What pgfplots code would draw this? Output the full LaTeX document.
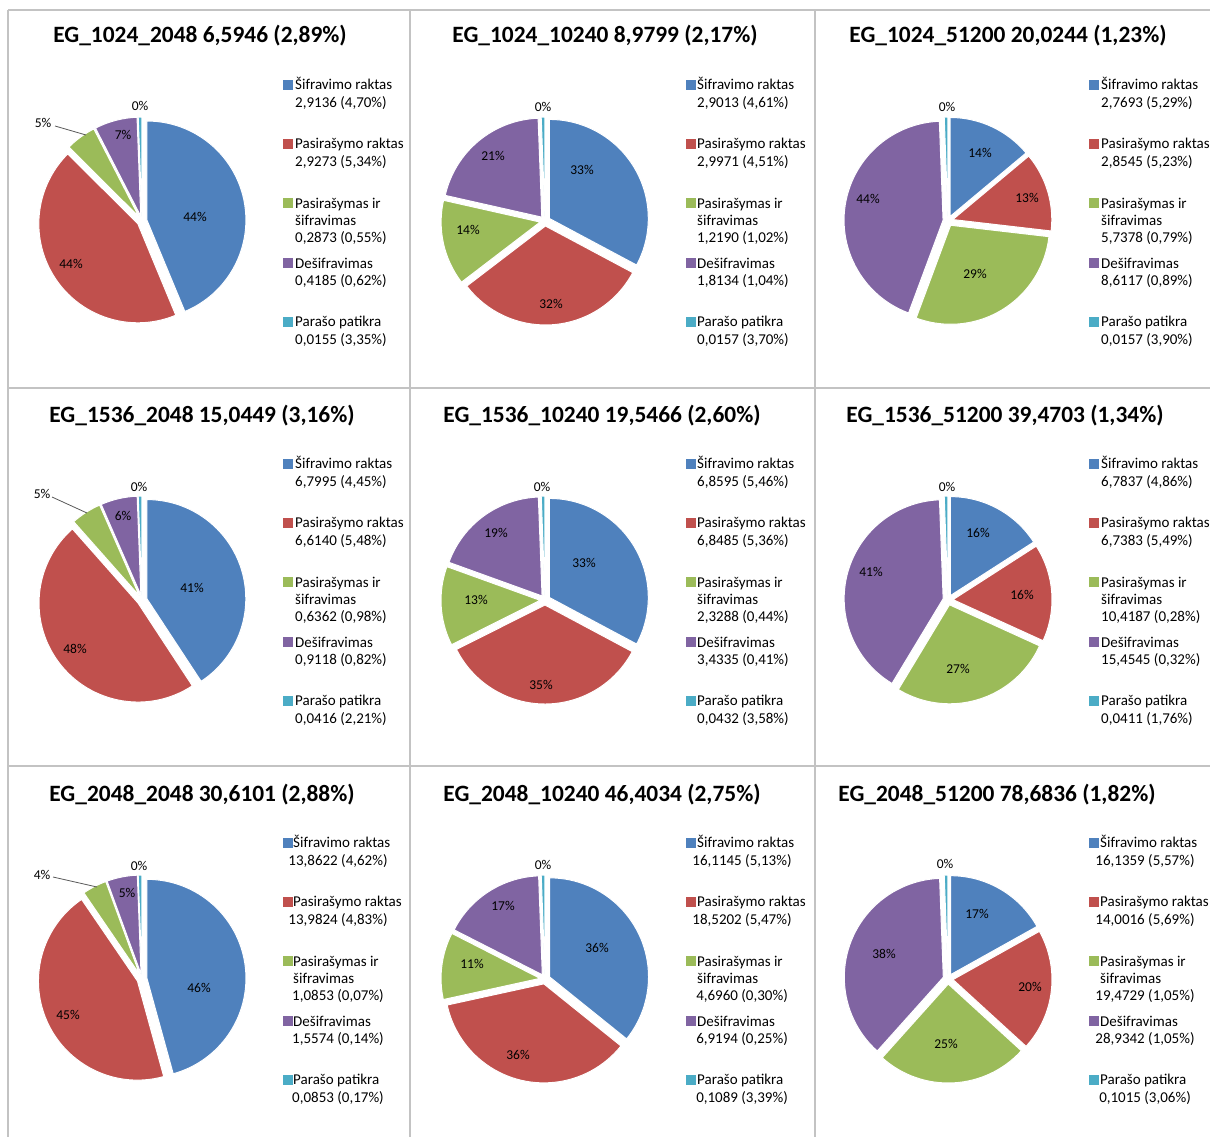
\documentclass[border=0pt]{standalone}
\usepackage{pgfplots}
\pgfplotsset{compat=1.18}
\usepackage{fontspec}
\setmainfont{Carlito}
\usetikzlibrary{calc}
\definecolor{cBlue}{HTML}{4F81BD}
\definecolor{cRed}{HTML}{C0504D}
\definecolor{cGreen}{HTML}{9BBB59}
\definecolor{cPurple}{HTML}{8064A2}
\definecolor{cAqua}{HTML}{4BACC6}
\definecolor{lgray}{RGB}{195,195,195}

\newcommand\pieR{99pt}
\newcommand\pieE{5pt}
% one slice: cx, cy, value, colour (uses \piecur and \pietot)
\newcommand{\slice}[4]{%
  \pgfmathsetmacro{\pA}{#3/\pietot*360}%
  \pgfmathsetmacro{\pEnd}{\piecur-\pA}%
  \pgfmathsetmacro{\pMid}{\piecur-\pA/2}%
  \edef\temp{\noexpand\fill[#4, draw=white, line width=1pt, line join=round]
     ($(axis cs:#1,#2)+(\pMid:\pieE)$) -- ++(\piecur:\pieR)
     arc[start angle=\piecur, end angle=\pEnd, radius=\pieR] -- cycle;}%
  \temp
  \global\let\piecur\pEnd
}
% pie: cx, cy, five shares
\newcommand{\pie}[7]{%
  \pgfmathsetmacro{\pietot}{#3+#4+#5+#6+#7}%
  \gdef\piecur{90}%
  \slice{#1}{#2}{#3}{cBlue}%
  \slice{#1}{#2}{#4}{cRed}%
  \slice{#1}{#2}{#5}{cGreen}%
  \slice{#1}{#2}{#6}{cPurple}%
  \slice{#1}{#2}{#7}{cAqua}%
}
% legend text: x, row offset, value anchor, value dx, five values
\newcommand{\legtext}[9]{%
  \node[lt, anchor=base west] at (axis cs:#1,{#2+89.7}) {Šifravimo raktas};
  \node[lt, anchor=#3] at (axis cs:{#1+#4},{#2+107.7}) {#5};
  \node[lt, anchor=base west] at (axis cs:#1,{#2+148.7}) {Pasirašymo raktas};
  \node[lt, anchor=#3] at (axis cs:{#1+#4},{#2+166.9}) {#6};
  \node[lt, anchor=base west] at (axis cs:#1,{#2+208}) {Pasirašymas ir};
  \node[lt, anchor=base west] at (axis cs:#1,{#2+225.4}) {šifravimas};
  \node[lt, anchor=#3] at (axis cs:{#1+#4},{#2+242.4}) {#7};
  \node[lt, anchor=base west] at (axis cs:#1,{#2+268}) {Dešifravimas};
  \node[lt, anchor=#3] at (axis cs:{#1+#4},{#2+285.7}) {#8};
  \node[lt, anchor=base west] at (axis cs:#1,{#2+326.4}) {Parašo patikra};
  \node[lt, anchor=#3] at (axis cs:{#1+#4},{#2+344.7}) {#9};
}

\begin{document}
\begin{tikzpicture}[
  lt/.style={font=\fontsize{15}{18}\selectfont, inner sep=0pt, text=black},
  tt/.style={font=\fontsize{23.4}{28}\selectfont\bfseries, inner sep=0pt, anchor=base},
  pl/.style={font=\fontsize{13.5}{16}\selectfont, inner sep=0pt, text=black},
  ld/.style={draw=black!65, line width=0.8pt}]
\begin{axis}[
  x=1pt, y=1pt, scale only axis,
  xmin=0, xmax=1210, ymin=0, ymax=1137,
  y dir=reverse, hide axis, clip=false]

% frame lines
\draw[lgray, line width=1.5pt] (axis cs:8,10) -- (axis cs:1210,10);
\draw[lgray, line width=1.5pt] (axis cs:8,388) -- (axis cs:1210,388);
\draw[lgray, line width=1.5pt] (axis cs:8,766) -- (axis cs:1210,766);
\draw[lgray, line width=1.5pt] (axis cs:8,10) -- (axis cs:8,1137);
\draw[lgray, line width=1.5pt] (axis cs:410,10) -- (axis cs:410,1137);
\draw[lgray, line width=1.5pt] (axis cs:815,10) -- (axis cs:815,1137);

% pies (shares in %)
\pie{142}{221}{44}{44}{5}{7}{0.6}
\pie{545}{221}{33}{32}{14}{21}{0.6}
\pie{948}{221}{14}{13}{29}{44}{0.6}
\pie{142}{600}{41}{48}{5}{6}{0.6}
\pie{545}{600}{33}{35}{13}{19}{0.6}
\pie{948}{600}{16}{16}{27}{41}{0.6}
\pie{142}{979}{46}{45}{4}{5}{0.6}
\pie{545}{979}{36}{36}{11}{17}{0.6}
\pie{948}{979}{17}{20}{25}{38}{0.6}

% titles
\node[tt] at (axis cs:200,43) {EG\_1024\_2048 6,5946 (2,89\%)};
\node[tt] at (axis cs:605,43) {EG\_1024\_10240 8,9799 (2,17\%)};
\node[tt] at (axis cs:1008,43) {EG\_1024\_51200 20,0244 (1,23\%)};
\node[tt] at (axis cs:202,422.5) {EG\_1536\_2048 15,0449 (3,16\%)};
\node[tt] at (axis cs:602,422.5) {EG\_1536\_10240 19,5466 (2,60\%)};
\node[tt] at (axis cs:1005,422.5) {EG\_1536\_51200 39,4703 (1,34\%)};
\node[tt] at (axis cs:202,801.5) {EG\_2048\_2048 30,6101 (2,88\%)};
\node[tt] at (axis cs:602,801.5) {EG\_2048\_10240 46,4034 (2,75\%)};
\node[tt] at (axis cs:997,801.5) {EG\_2048\_51200 78,6836 (1,82\%)};

% slice labels
\node[pl] at (axis cs:195,217) {44\%};
\node[pl] at (axis cs:71,264) {44\%};
\node[pl] at (axis cs:43,123) {5\%};
\node[pl] at (axis cs:123,135) {7\%};
\node[pl] at (axis cs:140,106) {0\%};
\draw[ld] (axis cs:55,126) -- (axis cs:86,135);

\node[pl] at (axis cs:582,170) {33\%};
\node[pl] at (axis cs:551,304) {32\%};
\node[pl] at (axis cs:468,230) {14\%};
\node[pl] at (axis cs:493,156) {21\%};
\node[pl] at (axis cs:543,107) {0\%};

\node[pl] at (axis cs:980,153) {14\%};
\node[pl] at (axis cs:1027,198) {13\%};
\node[pl] at (axis cs:975,274) {29\%};
\node[pl] at (axis cs:868,199) {44\%};
\node[pl] at (axis cs:947,107) {0\%};

\node[pl] at (axis cs:192,588) {41\%};
\node[pl] at (axis cs:75,649) {48\%};
\node[pl] at (axis cs:42,494) {5\%};
\node[pl] at (axis cs:123,516) {6\%};
\node[pl] at (axis cs:139,487) {0\%};
\draw[ld] (axis cs:52,497) -- (axis cs:87,513);

\node[pl] at (axis cs:584,563) {33\%};
\node[pl] at (axis cs:541,685) {35\%};
\node[pl] at (axis cs:476,600) {13\%};
\node[pl] at (axis cs:496,533) {19\%};
\node[pl] at (axis cs:542,487) {0\%};

\node[pl] at (axis cs:978,533) {16\%};
\node[pl] at (axis cs:1022,595) {16\%};
\node[pl] at (axis cs:958,669) {27\%};
\node[pl] at (axis cs:871,572) {41\%};
\node[pl] at (axis cs:947,487) {0\%};

\node[pl] at (axis cs:199,988) {46\%};
\node[pl] at (axis cs:68,1015) {45\%};
\node[pl] at (axis cs:42,875) {4\%};
\node[pl] at (axis cs:127,893) {5\%};
\node[pl] at (axis cs:139,866) {0\%};
\draw[ld] (axis cs:53,877) -- (axis cs:97,887);

\node[pl] at (axis cs:597,948) {36\%};
\node[pl] at (axis cs:518,1055) {36\%};
\node[pl] at (axis cs:472,964) {11\%};
\node[pl] at (axis cs:503,906) {17\%};
\node[pl] at (axis cs:543,865) {0\%};

\node[pl] at (axis cs:977,914) {17\%};
\node[pl] at (axis cs:1030,987) {20\%};
\node[pl] at (axis cs:946,1044) {25\%};
\node[pl] at (axis cs:884,954) {38\%};
\node[pl] at (axis cs:945,864) {0\%};

% legend keys
\addplot[only marks, mark=square*, mark size=4.5pt, mark options={fill=cBlue, draw=cBlue}] coordinates
  {(287.5,85) (690.5,85) (1094,85) (287.5,464) (690.5,464) (1094,464) (287.5,843) (690.5,843) (1094,843)};
\addplot[only marks, mark=square*, mark size=4.5pt, mark options={fill=cRed, draw=cRed}] coordinates
  {(287.5,144) (690.5,144) (1094,144) (287.5,523) (690.5,523) (1094,523) (287.5,902) (690.5,902) (1094,902)};
\addplot[only marks, mark=square*, mark size=4.5pt, mark options={fill=cGreen, draw=cGreen}] coordinates
  {(287.5,203) (690.5,203) (1094,203) (287.5,582) (690.5,582) (1094,582) (287.5,961) (690.5,961) (1094,961)};
\addplot[only marks, mark=square*, mark size=4.5pt, mark options={fill=cPurple, draw=cPurple}] coordinates
  {(287.5,263) (690.5,263) (1094,263) (287.5,642) (690.5,642) (1094,642) (287.5,1021) (690.5,1021) (1094,1021)};
\addplot[only marks, mark=square*, mark size=4.5pt, mark options={fill=cAqua, draw=cAqua}] coordinates
  {(287.5,322) (690.5,322) (1094,322) (287.5,701) (690.5,701) (1094,701) (287.5,1080) (690.5,1080) (1094,1080)};

% legend texts
\legtext{295}{0}{base west}{0}{2,9136 (4,70\%)}{2,9273 (5,34\%)}{0,2873 (0,55\%)}{0,4185 (0,62\%)}{0,0155 (3,35\%)}
\legtext{697}{0}{base west}{0}{2,9013 (4,61\%)}{2,9971 (4,51\%)}{1,2190 (1,02\%)}{1,8134 (1,04\%)}{0,0157 (3,70\%)}
\legtext{1101}{0}{base west}{0}{2,7693 (5,29\%)}{2,8545 (5,23\%)}{5,7378 (0,79\%)}{8,6117 (0,89\%)}{0,0157 (3,90\%)}
\legtext{295}{379}{base west}{0}{6,7995 (4,45\%)}{6,6140 (5,48\%)}{0,6362 (0,98\%)}{0,9118 (0,82\%)}{0,0416 (2,21\%)}
\legtext{697}{379}{base west}{0}{6,8595 (5,46\%)}{6,8485 (5,36\%)}{2,3288 (0,44\%)}{3,4335 (0,41\%)}{0,0432 (3,58\%)}
\legtext{1101}{379}{base west}{0}{6,7837 (4,86\%)}{6,7383 (5,49\%)}{10,4187 (0,28\%)}{15,4545 (0,32\%)}{0,0411 (1,76\%)}
\legtext{293}{758}{base}{45}{13,8622 (4,62\%)}{13,9824 (4,83\%)}{1,0853 (0,07\%)}{1,5574 (0,14\%)}{0,0853 (0,17\%)}
\legtext{697}{758}{base}{45}{16,1145 (5,13\%)}{18,5202 (5,47\%)}{4,6960 (0,30\%)}{6,9194 (0,25\%)}{0,1089 (3,39\%)}
\legtext{1100}{758}{base}{45}{16,1359 (5,57\%)}{14,0016 (5,69\%)}{19,4729 (1,05\%)}{28,9342 (1,05\%)}{0,1015 (3,06\%)}
\end{axis}
\pgfresetboundingbox
\path[use as bounding box] (current axis.south west) rectangle (current axis.north east);
\end{tikzpicture}
\end{document}
